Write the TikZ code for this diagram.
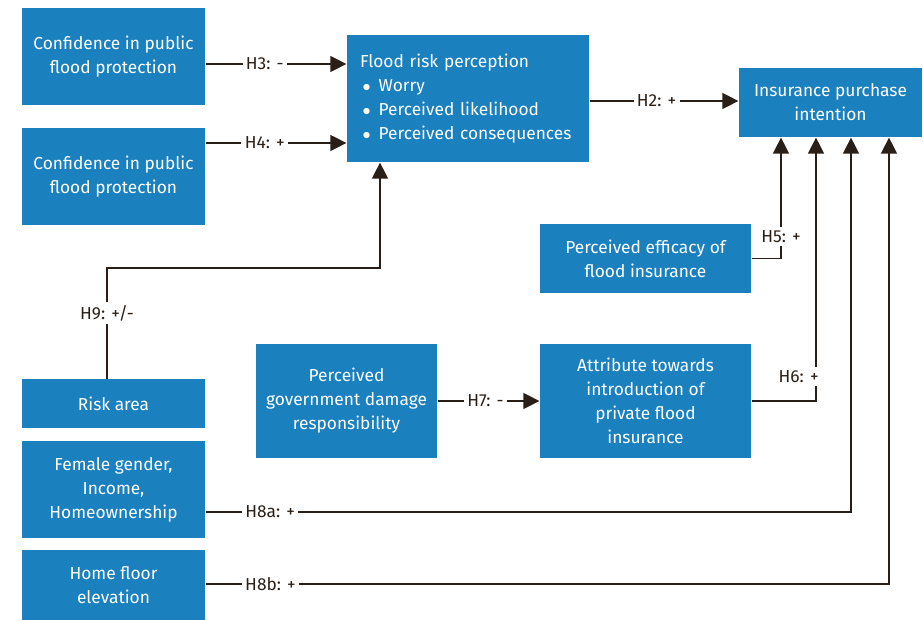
\documentclass[tikz,border=0pt]{standalone}
\usepackage{fontspec}
\setmainfont{Fira Sans}
\usepackage{tikz}
\usetikzlibrary{arrows.meta}
\definecolor{boxblue}{RGB}{27,128,190}
\definecolor{linebrown}{RGB}{42,31,22}
\tikzset{
	block/.style    = {fill=boxblue, text=white, rectangle, inner sep=0pt, align=center,
		font=\fontsize{13}{18}\selectfont},
	hyp/.style      = {fill=white, text=linebrown, inner sep=2.5pt,
		font=\fontsize{13}{15}\selectfont},
}
\newcommand{\blt}{\hspace*{2pt}$\bullet$\hspace{6pt}}

\begin{document}
\begin{tikzpicture}[ x=0.75pt, y=-0.75pt,              %<--one unit is one pixel of the figure
					line width=0.9pt,                  %<--setting line style
					draw=linebrown,
					>={Triangle[length=12pt,width=12pt]} ] %<--sets the arrowtype

	\useasboundingbox (0,0) rectangle (924,620);

	\draw%-----------------------------------------------------------------------------------------
	%Drawing the Driver Blocks:
	node(conf1) at (113.5,56.5) [block, minimum width=137.25pt, minimum height=72.75pt] {Confidence in public\\flood protection}
	node(conf2) at (113.5,176.5) [block, minimum width=137.25pt, minimum height=72.75pt] {Confidence in public\\flood protection}
	node(risk) at (113.5,403.5) [block, minimum width=137.25pt, minimum height=36.75pt] {Risk area}
	node(female) at (113.5,489.5) [block, minimum width=137.25pt, minimum height=72.75pt] {Female gender,\\Income,\\Homeownership}
	node(home) at (113.5,585) [block, minimum width=137.25pt, minimum height=52.5pt] {Home floor\\elevation}
	node(gov) at (346.5,401) [block, minimum width=135.75pt, minimum height=85.5pt] {Perceived\\government damage\\responsibility}
	%Drawing the Mediator Blocks:
	node(flood) at (468,98.5) [block, minimum width=181.5pt, minimum height=95.25pt, text width=162pt, align=left]
		{Flood risk perception\\
		 \blt Worry\\
		 \blt Perceived likelihood\\
		 \blt Perceived consequences}
	node(eff) at (645.5,258.5) [block, minimum width=158.25pt, minimum height=51.75pt] {Perceived efficacy of\\flood insurance}
	node(attr) at (645.5,401) [block, minimum width=158.25pt, minimum height=85.5pt] {Attribute towards\\introduction of\\private flood\\insurance}
	%Drawing the Outcome Block:
	node(ins) at (830.5,102.5) [block, minimum width=137.25pt, minimum height=51.75pt] {Insurance purchase\\intention}
	;%---------------------------------------------------------------------------------------------

	%Bend points and entry points
	\coordinate (riskTop) at (107,379);
	\coordinate (h9Corner) at (380,268);
	\coordinate (in5) at (781,0);
	\coordinate (in6) at (816,0);
	\coordinate (in8a) at (851,0);
	\coordinate (in8b) at (889,0);

	%Joining the Blocks
	\draw[->] (conf1.east |- 0,64) -- node[hyp, pos=0.42] {H3: -} (flood.west |- 0,64);
	\draw[->] (conf2.east |- 0,143) -- node[hyp, pos=0.42] {H4: +} (flood.west |- 0,143);
	\draw[->] (flood.east |- 0,101) -- node[hyp, pos=0.45] {H2: +} (ins.west |- 0,101);
	\draw[->] (gov) -- node[hyp, pos=0.47] {H7: -} (attr);

	\draw[->] (eff.east) -| node[hyp, pos=0.59] {H5: +} (in5 |- ins.south);
	\draw[->] (attr.east) -| node[hyp, pos=0.547, xshift=-13pt] {H6: +} (in6 |- ins.south);
	\draw[->] (female.east |- 0,512) -| node[hyp, pos=0.05] {H8a: +} (in8a |- ins.south);
	\draw[->] (home.east |- 0,584) -| node[hyp, pos=0.0475] {H8b: +} (in8b |- ins.south);

	\draw[->] (riskTop) |- node[hyp, pos=0.297] {H9: +/-} (h9Corner) -- (h9Corner |- flood.south);

\end{tikzpicture}
\end{document}
